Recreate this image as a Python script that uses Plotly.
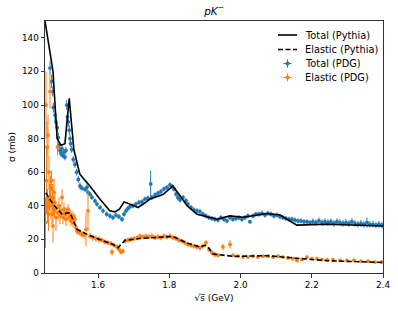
import plotly.graph_objects as go

# ---- Pythia curves ----
pythia_tot_x = [1.451, 1.4735, 1.485, 1.496, 1.507, 1.519, 1.532, 1.549, 1.577, 1.605, 1.633, 1.647,
                1.660, 1.673, 1.690, 1.712, 1.730, 1.746, 1.782, 1.810, 1.830, 1.850, 1.878, 1.934,
                1.970, 2.007, 2.074, 2.111, 2.158, 2.243, 2.400]
pythia_tot_y = [150, 120, 80, 76, 77, 104, 73.5, 58.7, 51.8, 44, 37, 36.4,
                38, 42.3, 41, 39, 41.5, 44, 46.7, 51.8, 46, 40, 35, 32,
                34, 33.2, 35.4, 34.5, 28.5, 29, 28]

pythia_el_x = [1.453, 1.4735, 1.499, 1.521, 1.541, 1.569, 1.605, 1.642, 1.656, 1.666, 1.676, 1.718,
               1.774, 1.810, 1.850, 1.886, 1.900, 1.908, 1.923, 1.979, 2.074, 2.158, 2.243, 2.400]
pythia_el_y = [47.8, 41, 35, 36, 26, 23, 20, 17, 15, 17.5, 19.5, 20.5,
               21.3, 21.8, 17.8, 15.4, 16.5, 15.5, 11.3, 9.9, 10.3, 8.7, 7.3, 6.3]

# ---- PDG total ----
pdg_tot_x = [1.465, 1.4698, 1.4726, 1.4743, 1.479, 1.4819, 1.4855, 1.4883, 1.4903, 1.4931, 1.4959,
             1.4987, 1.5015, 1.5043, 1.5071, 1.5099, 1.5119, 1.5142, 1.5164, 1.5192, 1.5212, 1.5231,
             1.526, 1.5304, 1.5352, 1.54, 1.5445, 1.5492, 1.5549, 1.5633, 1.5689, 1.5717, 1.5773,
             1.5829, 1.5913, 1.5969, 1.6054, 1.6138, 1.6242, 1.6335, 1.6419, 1.6503, 1.6587, 1.6671,
             1.6728, 1.6784, 1.684, 1.6896, 1.698, 1.7064, 1.7149, 1.7233, 1.7317, 1.7401, 1.7477,
             1.7513, 1.7598, 1.7682, 1.7766, 1.785, 1.7935, 1.8019, 1.8075, 1.8131, 1.8187, 1.8243,
             1.83, 1.8384, 1.8468, 1.8524, 1.8608, 1.8692, 1.8777, 1.8861, 1.8945, 1.9029, 1.9114,
             1.9198, 1.9282, 1.9366, 1.945, 1.9535, 1.9619, 1.9703, 1.9787, 1.9872, 1.9956, 2.004,
             2.0124, 2.0208, 2.0264, 2.0349, 2.0433, 2.0517, 2.0601, 2.0686, 2.077, 2.0854, 2.0938,
             2.1022, 2.1107, 2.1191, 2.1275, 2.1359, 2.1444, 2.1528, 2.1612, 2.1696, 2.178, 2.1865,
             2.1949, 2.2033, 2.2117, 2.2202, 2.2286, 2.237, 2.2454, 2.2538, 2.2623, 2.2707, 2.2791,
             2.2875, 2.296, 2.3044, 2.3128, 2.3212, 2.3296, 2.3381, 2.3465, 2.3549, 2.3633, 2.3718,
             2.3802, 2.3886, 2.397]
pdg_tot_y = [122, 114, 108, 98.5, 94, 90, 86.5, 80.5, 76, 73, 71,
             74, 70, 72, 69, 73, 100, 93, 90, 85, 80, 77,
             73.5, 67.6, 64.6, 60, 55.7, 51.8, 50.5, 49.8, 51, 48, 46.9,
             45, 42.9, 41, 39, 37, 35, 34, 33, 34.5, 33.5, 32,
             35, 37, 38.5, 39.5, 40, 41, 42, 42.5, 44, 44.5, 53,
             45, 46.5, 47.5, 48.5, 50, 51, 52.5, 51.5, 50, 47, 45,
             43.5, 45, 43, 41, 39, 37.5, 37, 36.5, 35, 34, 33,
             32.5, 32, 31.5, 33, 32, 31, 33, 32, 32.5, 33, 32,
             33, 34, 30.5, 34, 35, 35, 35.5, 34.5, 35.5, 35, 34,
             34.5, 33.5, 33, 32.5, 32, 32, 31.5, 31, 31, 30.5, 30.5,
             30, 30.5, 30, 31, 30, 30.5, 30, 30.5, 29.5, 30.5, 30,
             29.5, 30, 29.5, 30.5, 29.5, 29, 29.5, 29, 30, 29, 29,
             28.5, 29, 28.5]
pdg_tot_err = [4, 4, 3, 3, 3, 3, 3, 3, 2, 2, 2,
               2, 2, 2, 2, 2, 3, 3, 3, 3, 2, 2,
               2, 2, 2, 2, 2, 2, 1.5, 1.5, 3, 1.5, 1.5,
               1.5, 1.5, 1.5, 1.5, 1.5, 1.5, 1.5, 1.5, 1.5, 1.5, 1.5,
               1.5, 1.5, 1.5, 1.5, 1.5, 1.5, 1.5, 1.5, 1.5, 1.5, 8,
               1.5, 1.5, 1.5, 1.5, 1.5, 1.5, 1.5, 1.5, 1.5, 1.5, 1.5,
               1.5, 1.5, 1.5, 1.5, 1.5, 1.5, 1.5, 1.5, 1.5, 1.5, 1.5,
               1.5, 1.5, 1.5, 1.5, 1.5, 1.5, 1.5, 1.5, 1.5, 1.5, 1.5,
               1.5, 1.5, 1, 1.5, 1.5, 1.5, 1.5, 1.5, 1.5, 1.5, 1.5,
               1.5, 1.5, 1.5, 1.5, 1.5, 1.5, 1.5, 1.5, 1.5, 1.5, 1.5,
               1.5, 2, 2, 2, 2, 2, 2, 2, 2, 2, 2,
               2, 2, 2, 2, 2, 2, 2, 2, 3, 2, 2,
               2, 2, 2]

# ---- PDG elastic ----
pdg_el_x = [1.4524, 1.4538, 1.4552, 1.4566, 1.458, 1.4594, 1.4608, 1.4622, 1.4636, 1.465, 1.4664,
            1.4678, 1.4692, 1.4706, 1.472, 1.4734, 1.4749, 1.4763, 1.4777, 1.479, 1.4819, 1.4861,
            1.4875, 1.4903, 1.4931, 1.4959, 1.4987, 1.5015, 1.5043, 1.5071, 1.5099, 1.5128, 1.5156,
            1.5184, 1.5212, 1.524, 1.5268, 1.5296, 1.5324, 1.5352, 1.538, 1.5409, 1.5436, 1.5492,
            1.5549, 1.5605, 1.5661, 1.5717, 1.5773, 1.5857, 1.5941, 1.6026, 1.611, 1.6194, 1.6278,
            1.6363, 1.6391, 1.6447, 1.6531, 1.6587, 1.6643, 1.6699, 1.6756, 1.684, 1.6924, 1.7008,
            1.7093, 1.7177, 1.7261, 1.7345, 1.7429, 1.7513, 1.7598, 1.7682, 1.7766, 1.785, 1.7935,
            1.8019, 1.8103, 1.8187, 1.8271, 1.8356, 1.844, 1.8524, 1.8608, 1.8692, 1.8777, 1.8861,
            1.8945, 1.9029, 1.9114, 1.9198, 1.9282, 1.9366, 1.9506, 1.9703, 1.9787, 1.9928, 2.0068,
            2.0208, 2.0349, 2.0489, 2.063, 2.077, 2.091, 2.1051, 2.1191, 2.1331, 2.1472, 2.1584,
            2.1724, 2.1865, 2.2005, 2.2145, 2.2286, 2.2426, 2.2594, 2.2791, 2.2987, 2.3184, 2.3381,
            2.3577, 2.3774, 2.397]
pdg_el_y = [30, 100, 55, 75, 40, 82, 35, 60, 45, 108, 50,
            40, 55, 35, 45, 28, 40, 48, 38, 42, 33, 75,
            36, 40, 34, 37, 45, 33, 38, 35, 32, 36, 38,
            33, 35, 31, 34, 30, 33, 32, 27, 25, 24.5, 24,
            23, 22.5, 26, 37, 22, 21, 20.5, 20, 19.5, 18.5, 18,
            17.5, 12.5, 16.5, 15.5, 14, 12.5, 13, 19, 19.5, 20, 20.5,
            21, 22, 21.5, 22, 21.5, 22, 21, 21.5, 21, 22, 21.5,
            22, 21, 20.5, 19.5, 19, 18, 17, 16.5, 16, 15.5, 15,
            16, 18, 14, 12, 11, 10.5, 15.5, 17, 10.5, 10, 9.5,
            9.5, 10, 9.5, 10, 10, 9.5, 10, 9.5, 9, 8.5, 7.5,
            8, 9.5, 8.5, 8.5, 8, 8, 8, 7.5, 7.5, 7.5, 7,
            7, 6.5, 6.5]
pdg_el_err = [15, 20, 20, 15, 10, 12, 10, 10, 8, 10, 8,
              8, 6, 6, 8, 10, 5, 8, 5, 6, 8, 5,
              5, 5, 5, 4, 5, 4, 4, 4, 4, 3, 3,
              3, 3, 3, 3, 3, 3, 3, 2, 2, 2, 2,
              2, 2, 10, 12, 2, 2, 2, 2, 1.5, 1.5, 1.5,
              1.5, 2, 1.5, 1.5, 1.5, 1.5, 1.5, 1.5, 1.5, 1.5, 1.5,
              1.5, 1.5, 1.5, 1.5, 1.5, 1.5, 1.5, 1.5, 1.5, 1.5, 1.5,
              1.5, 1.5, 1.5, 1.5, 1.5, 1.5, 1.5, 1.5, 1.5, 1.5, 1.5,
              1.5, 1.5, 1.5, 1.5, 1.5, 1.5, 2, 2.5, 1, 1, 1,
              1, 1, 1, 1, 1, 1, 1, 1, 1, 1, 1,
              1, 1, 1, 1, 1, 1, 1, 1, 1, 1, 1,
              1, 1, 1]

x_ticks = [1.6, 1.8, 2.0, 2.2, 2.4]
x_tick_labels = ["1.6", "1.8", "2.0", "2.2", "2.4"]
y_ticks = [0, 20, 40, 60, 80, 100, 120, 140]
legend_labels = ["Total (Pythia)", "Elastic (Pythia)", "Total (PDG)", "Elastic (PDG)"]

BLUE = "#1f77b4"
ORANGE = "#ff7f0e"
FONT = "DejaVu Sans"

W, H = 398, 311
ML, MR, MT, MB = 45, 15, 21, 38
PW, PH = W - ML - MR, H - MT - MB


def px(x):
    return (x - ML) / PW


def py(y):
    return (H - MB - y) / PH


fig = go.Figure()
fig.add_trace(go.Scatter(
    x=pdg_tot_x, y=pdg_tot_y, mode="markers", name=legend_labels[2], showlegend=False,
    marker=dict(color=BLUE, size=3.8),
    error_y=dict(type="data", array=pdg_tot_err, color=BLUE, thickness=1, width=0)))
fig.add_trace(go.Scatter(
    x=pdg_el_x, y=pdg_el_y, mode="markers", name=legend_labels[3], showlegend=False,
    marker=dict(color=ORANGE, size=3.8),
    error_y=dict(type="data", array=pdg_el_err, color=ORANGE, thickness=1, width=0)))
fig.add_trace(go.Scatter(
    x=pythia_tot_x, y=pythia_tot_y, mode="lines", name=legend_labels[0], showlegend=False,
    line=dict(color="black", width=1.6)))
fig.add_trace(go.Scatter(
    x=pythia_el_x, y=pythia_el_y, mode="lines", name=legend_labels[1], showlegend=False,
    line=dict(color="black", width=1.6, dash="5px,2.5px")))

# ---- manual legend (matplotlib-like compact layout) ----
rows = [35, 49.5, 63.5, 77.5]
shapes = []
annotations = []
line_x0, line_x1, text_x, cross_x = 278, 297, 303, 287.5
shapes.append(dict(type="line", xref="paper", yref="paper", x0=px(line_x0), x1=px(line_x1),
                   y0=py(rows[0]), y1=py(rows[0]), line=dict(color="black", width=1.6)))
shapes.append(dict(type="line", xref="paper", yref="paper", x0=px(line_x0), x1=px(line_x1),
                   y0=py(rows[1]), y1=py(rows[1]), line=dict(color="black", width=1.6, dash="5px,2.5px")))
for r, col in ((rows[2], BLUE), (rows[3], ORANGE)):
    shapes.append(dict(type="line", xref="paper", yref="paper", x0=px(cross_x - 4), x1=px(cross_x + 4),
                       y0=py(r), y1=py(r), line=dict(color=col, width=1)))
    shapes.append(dict(type="line", xref="paper", yref="paper", x0=px(cross_x), x1=px(cross_x),
                       y0=py(r - 4), y1=py(r + 4), line=dict(color=col, width=1)))
    shapes.append(dict(type="circle", xref="paper", yref="paper", x0=px(cross_x - 2), x1=px(cross_x + 2),
                       y0=py(r + 2), y1=py(r - 2), fillcolor=col, line=dict(width=0)))
for r, lab in zip(rows, legend_labels):
    annotations.append(dict(text=lab, xref="paper", yref="paper", x=px(text_x), y=py(r),
                            xanchor="left", yanchor="middle", showarrow=False,
                            font=dict(family=FONT, size=9.8, color="black")))

axis_common = dict(showline=True, linecolor="#333", linewidth=1, mirror=True, ticks="outside",
                   ticklen=3.5, tickwidth=0.8, tickcolor="#333", showgrid=False, zeroline=False,
                   automargin=False, tickfont=dict(family=FONT, size=8.8, color="black"))

fig.update_layout(
    width=W, height=H,
    margin=dict(l=ML, r=MR, t=MT, b=MB),
    plot_bgcolor="white", paper_bgcolor="white",
    font=dict(family=FONT, size=8.8, color="black"),
    title=dict(text="<i>pK</i><sup>−</sup>", x=(ML + PW / 2) / W, xanchor="center",
               y=1 - 11 / H, yanchor="middle", font=dict(family=FONT, size=10.5)),
    xaxis=dict(range=[1.451, 2.4], tickvals=x_ticks, ticktext=x_tick_labels,
               title=dict(text="√s\u0305 (GeV)", standoff=5, font=dict(size=9)), **axis_common),
    yaxis=dict(range=[0, 150], tickvals=y_ticks,
               title=dict(text="σ (mb)", standoff=4, font=dict(size=9)), **axis_common),
    shapes=shapes,
    annotations=annotations,
    showlegend=False,
)

fig.write_html("out.html", config={"displayModeBar": False},
               post_script="document.body.style.margin='0';")
